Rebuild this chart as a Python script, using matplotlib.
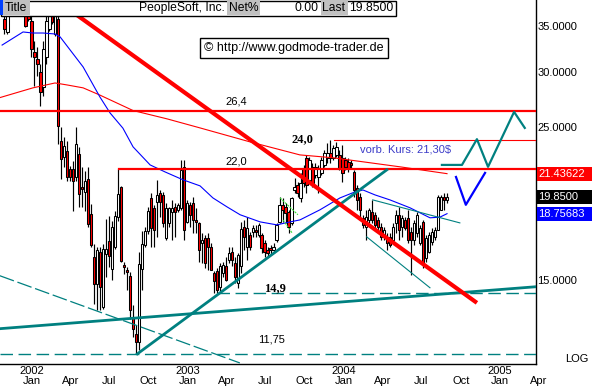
import matplotlib
matplotlib.use("Agg")
import matplotlib.pyplot as plt
import matplotlib.dates as mdates
from matplotlib.patches import Rectangle
from matplotlib.transforms import blended_transform_factory
import numpy as np
import pandas as pd

plt.rcParams['font.family'] = ['Liberation Sans', 'DejaVu Sans']

# ---------------- data (weekly OHLC, PeopleSoft) ----------------
first_week = "2001-10-29"
opens = [35.90, 34.35, 36.90, 39.00, 40.80, 39.80, 38.50, 37.50, 36.80, 35.70,
         32.14, 31.43, 30.06, 28.60, 31.60, 34.73, 36.30, 34.16, 35.90, 23.94,
         22.65, 23.15, 21.78, 21.78, 21.19, 22.90, 20.49, 20.15, 21.07, 18.75,
         16.23, 14.85, 16.50, 13.73, 16.40, 17.15, 15.61, 16.78, 18.54, 20.49,
         15.78, 15.52, 15.26, 13.28, 12.56, 12.23, 15.61, 16.87, 17.73, 19.75,
         19.11, 19.53, 20.08, 19.97, 17.29, 18.17, 18.89, 19.21, 19.00, 19.11,
         21.95, 18.27, 19.32, 19.43, 18.37, 18.17, 17.00, 17.29, 17.29, 16.81,
         15.39, 15.47, 14.71, 15.39, 15.73, 16.08, 16.53, 15.91, 14.88, 15.73,
         17.97, 16.81, 17.48, 17.67, 17.77, 17.48, 17.48, 17.00, 16.62, 16.72,
         16.62, 17.19, 18.27, 19.32, 19.21, 18.89, 18.17, 20.30, 20.65, 19.75,
         21.84, 22.57, 21.00, 21.95, 21.35, 21.23, 21.47, 22.07, 22.57, 22.95,
         22.57, 22.82, 22.82, 22.57, 22.45, 22.32, 22.20, 21.58, 20.42, 19.86,
         18.48, 17.97, 18.37, 18.89, 18.69, 18.37, 17.97, 17.38, 17.38, 17.38,
         17.19, 18.17, 18.69, 17.97, 18.37, 18.48, 17.67, 17.19, 17.58, 17.00,
         18.27, 16.19, 16.53, 17.09, 17.38, 17.77, 19.00, 19.86, 19.64]
highs = [36.60, 37.50, 39.50, 41.50, 42.50, 41.00, 39.80, 38.00, 37.30, 36.30,
         33.40, 32.68, 30.90, 33.40, 36.50, 36.80, 36.80, 36.80, 36.60, 25.03,
         24.21, 23.94, 22.02, 22.39, 25.03, 23.41, 21.91, 21.65, 21.91, 19.38,
         16.96, 16.78, 16.78, 16.96, 18.44, 18.64, 18.33, 18.95, 21.78, 20.55,
         15.96, 15.70, 15.44, 13.81, 12.92, 16.50, 17.73, 17.93, 19.17, 20.08,
         19.32, 21.00, 20.30, 20.19, 19.43, 19.21, 19.64, 19.43, 19.43, 22.45,
         22.45, 19.64, 19.53, 19.86, 19.11, 18.27, 17.58, 17.48, 17.58, 17.00,
         15.47, 15.65, 15.91, 15.99, 16.26, 16.81, 16.81, 16.26, 16.44, 18.27,
         18.37, 18.58, 17.67, 18.07, 18.07, 18.17, 17.58, 17.19, 16.81, 16.90,
         17.00, 18.17, 19.86, 19.75, 19.43, 19.00, 19.86, 21.12, 20.88, 21.47,
         22.07, 22.82, 22.69, 22.20, 22.20, 22.07, 22.69, 23.20, 23.73, 24.00,
         23.60, 23.86, 23.20, 23.60, 22.69, 22.57, 22.45, 21.71, 20.65, 20.08,
         18.69, 19.00, 19.11, 19.64, 18.89, 18.58, 18.17, 17.97, 17.58, 17.58,
         18.17, 19.00, 19.21, 18.69, 18.58, 19.00, 17.97, 18.37, 18.89, 18.07,
         18.37, 17.48, 17.67, 17.87, 17.97, 19.97, 19.97, 20.08, 20.08]
lows = [34.16, 34.16, 36.60, 38.20, 39.20, 38.00, 37.00, 34.93, 35.70, 31.60,
        28.76, 29.73, 26.90, 27.80, 30.90, 34.54, 35.30, 33.96, 23.68, 21.07,
        21.91, 20.95, 20.95, 18.95, 20.95, 19.17, 19.17, 18.95, 17.93, 16.78,
        13.88, 13.58, 13.58, 13.65, 15.18, 15.70, 15.01, 16.68, 18.33, 15.96,
        15.35, 14.52, 13.21, 12.43, 11.75, 11.89, 14.52, 16.78, 17.54, 16.81,
        16.81, 17.38, 18.58, 17.97, 17.19, 17.97, 17.19, 17.38, 18.89, 19.00,
        17.19, 18.17, 17.97, 17.58, 17.58, 15.99, 15.91, 15.65, 15.57, 15.52,
        14.39, 14.39, 14.47, 15.21, 14.96, 15.91, 15.73, 14.88, 14.63, 15.39,
        16.62, 16.08, 16.62, 17.38, 17.38, 17.38, 16.44, 16.26, 16.26, 16.35,
        16.44, 17.09, 18.17, 18.27, 18.17, 17.58, 18.07, 20.08, 19.86, 19.53,
        20.53, 20.08, 20.77, 20.53, 21.12, 20.08, 21.35, 21.95, 22.20, 22.20,
        22.45, 22.69, 21.71, 20.88, 21.71, 21.58, 21.84, 19.86, 19.00, 18.37,
        17.87, 17.19, 18.17, 18.17, 17.87, 17.77, 17.19, 17.19, 16.62, 16.81,
        17.00, 17.58, 17.19, 17.38, 17.77, 17.00, 15.30, 16.90, 17.38, 16.90,
        15.66, 15.97, 16.44, 16.90, 17.19, 17.77, 19.00, 19.00, 19.43]
closes = [34.73, 36.90, 39.00, 40.80, 39.80, 38.50, 37.50, 35.10, 35.90, 32.49,
          31.67, 30.91, 28.12, 32.49, 35.70, 36.30, 35.50, 36.30, 25.16, 22.52,
          23.54, 21.19, 21.19, 20.95, 23.68, 20.04, 20.37, 20.95, 18.13, 16.87,
          14.85, 16.59, 14.68, 16.68, 16.68, 16.31, 17.93, 18.64, 20.04, 16.04,
          15.70, 15.44, 13.58, 12.78, 12.23, 15.87, 16.96, 17.73, 18.95, 17.87,
          17.77, 19.97, 19.53, 18.17, 19.11, 19.11, 19.11, 18.89, 19.32, 21.71,
          17.77, 19.43, 18.69, 18.37, 18.27, 16.62, 17.19, 15.91, 16.81, 15.57,
          14.96, 14.55, 15.73, 15.82, 15.04, 16.44, 16.08, 15.21, 16.35, 17.81,
          17.38, 17.87, 16.81, 17.87, 17.67, 18.07, 16.72, 16.53, 16.44, 16.62,
          16.81, 18.07, 19.32, 19.00, 18.79, 17.97, 19.75, 20.53, 20.08, 20.77,
          20.77, 20.65, 22.45, 20.77, 21.95, 21.84, 22.45, 22.95, 22.95, 22.57,
          23.34, 23.46, 21.84, 21.47, 21.95, 21.84, 22.07, 20.30, 19.64, 19.00,
          18.07, 18.58, 19.00, 18.37, 18.07, 17.97, 17.38, 17.77, 17.00, 16.90,
          17.97, 18.69, 17.77, 18.48, 17.87, 17.19, 17.19, 18.17, 18.69, 17.87,
          15.82, 17.29, 17.48, 17.67, 17.77, 19.86, 19.86, 19.64, 19.85]

# moving averages (node positions in weeks since first bar, values)
red_ma_wk = [-1.5, 9.5, 16.9, 20.9, 26.3, 31.9, 43.0, 54.3, 65.4, 82.0, 98.8, 110.0, 132.3, 148.0]
red_ma_val = [27.63, 28.54, 29.01, 28.82, 28.54, 27.86, 26.46, 25.74, 24.97, 23.84, 22.82, 22.60, 21.93, 21.436]
blue_ma_wk = [-0.8, 6.2, 9.5, 12.9, 16.9, 18.6, 26.3, 31.9, 35.3, 39.6, 43.0, 48.7, 53.7, 59.7, 65.4,
              69.7, 74.4, 78.8, 85.5, 91.1, 95.5, 98.8, 105.5, 112.2, 117.2, 119.9, 123.9, 128.9,
              135.6, 142.3, 145.6, 148.0]
blue_ma_val = [32.92, 34.39, 34.27, 34.27, 34.16, 33.83, 30.60, 27.69, 26.25, 24.95, 23.44, 22.07, 21.56,
               21.00, 20.58, 19.77, 19.19, 18.69, 18.25, 18.07, 18.25, 18.37, 19.00, 19.77, 20.17, 20.30,
               19.97, 19.64, 19.13, 18.50, 18.54, 18.757]

# drawn analysis lines: (start date, start price, end date, end price)
red_down = ("2002-04-17", 36.37, "2004-11-08", 13.93)
teal_up = ("2002-09-05", 11.75, "2004-04-11", 21.71)
teal_flat = ("2001-10-18", 12.78, "2005-03-26", 14.70)
teal_dash_down = ("2001-10-18", 15.25, "2003-05-03", 11.40)
teal_chan_up = ("2004-03-09", 19.64, "2004-09-29", 18.19)
teal_chan_lo = ("2004-02-24", 17.36, "2004-07-21", 14.65)
green_a = ("2003-08-05", 19.77, "2003-09-16", 18.69)
green_b = ("2003-08-12", 18.37, "2003-09-02", 17.60)
level_264 = 26.4
level_220 = ("2002-07-23", 21.75)
level_240 = ("2003-12-09", 24.0)
level_149 = ("2003-03-10", 14.38)
level_1175 = 11.75
proj_teal_dates = ["2004-08-18", "2004-10-04", "2004-11-08", "2004-12-04", "2005-02-03", "2005-02-28"]
proj_teal_vals = [22.07, 22.07, 24.05, 21.93, 26.34, 24.97]
proj_blue_dates = ["2004-09-20", "2004-10-13", "2004-11-27"]
proj_blue_vals = [21.20, 19.32, 21.49]

last_price = 19.85
red_ma_last = 21.43622
blue_ma_last = 18.75683
y_ticks = [15, 25, 30, 35]
month_ticks = pd.date_range("2002-01-01", "2005-04-01", freq="3MS")

# ---------------- figure ----------------
W, H = 592, 387
fig = plt.figure(figsize=(W / 100, H / 100), dpi=100)
fig.patch.set_facecolor("white")

def fx(px):
    return px / W

def fy(py):
    return 1 - py / H

AX_R, AX_B = 536, 364
ax = fig.add_axes([0, fy(AX_B), fx(AX_R), 1 - fy(AX_B)])
ax.set_yscale("log")
ax.set_ylim(11.36, 38.26)
ax.set_xlim(mdates.date2num(pd.Timestamp("2001-10-18 11:17")),
            mdates.date2num(pd.Timestamp("2005-03-26 07:00")))
ax.tick_params(axis="both", which="both", length=0, labelbottom=False, labelleft=False)
ax.yaxis.set_minor_locator(matplotlib.ticker.NullLocator())
ax.yaxis.set_major_locator(matplotlib.ticker.NullLocator())
ax.xaxis.set_major_locator(matplotlib.ticker.NullLocator())
for s in ("top", "left"):
    ax.spines[s].set_visible(False)
for s in ("right", "bottom"):
    ax.spines[s].set_linewidth(1.0)
    ax.spines[s].set_color("black")

TEAL = "#008080"
RED = "#ff0000"

weeks = pd.date_range(first_week, periods=len(opens), freq="7D")
xd = mdates.date2num(weeks)
o, h, l, c = map(np.array, (opens, highs, lows, closes))
up = c >= o
body_w = 5.4
ax.vlines(xd, l, h, color="black", lw=0.85, zorder=3)
ax.bar(xd[up], np.maximum(c[up] - o[up], 0.02), bottom=o[up], width=body_w,
       color="white", edgecolor="black", lw=0.75, zorder=4)
ax.bar(xd[~up], np.maximum(o[~up] - c[~up], 0.02), bottom=c[~up], width=body_w,
       color=RED, edgecolor="black", lw=0.75, zorder=4)

x0 = xd[0]
ax.plot(x0 + 7 * np.array(red_ma_wk), red_ma_val, color=RED, lw=0.8, zorder=5)
ax.plot(x0 + 7 * np.array(blue_ma_wk), blue_ma_val, color="#0000ff", lw=0.8, zorder=5)

def seg(spec, **kw):
    d0, v0, d1, v1 = spec
    ax.plot([pd.Timestamp(d0), pd.Timestamp(d1)], [v0, v1], **kw)

xmin, xmax = ax.get_xlim()
ax.axhline(level_264, color=RED, lw=1.6, zorder=6)
ax.plot([pd.Timestamp(level_220[0]), mdates.num2date(xmax)], [level_220[1]] * 2, color=RED, lw=1.6, zorder=6)
ax.plot([pd.Timestamp(level_240[0]), mdates.num2date(xmax)], [level_240[1]] * 2, color=RED, lw=0.8, zorder=6)
seg(red_down, color=RED, lw=3.0, zorder=7, solid_capstyle="butt")
seg(teal_up, color=TEAL, lw=2.0, zorder=6)
seg(teal_flat, color=TEAL, lw=2.0, zorder=6)
seg(teal_dash_down, color=TEAL, lw=0.9, zorder=6, dashes=(12, 3))
seg(teal_chan_up, color=TEAL, lw=0.8, zorder=6)
seg(teal_chan_lo, color=TEAL, lw=0.8, zorder=6)
seg(green_a, color="#33dd33", lw=0.8, zorder=6, dashes=(2, 1))
seg(green_b, color="#33dd33", lw=0.8, zorder=6, dashes=(2, 1))
ax.plot([pd.Timestamp(level_149[0]), mdates.num2date(xmax)], [level_149[1]] * 2, color=TEAL, lw=1.0,
        dashes=(9, 4), zorder=6)
ax.axhline(level_1175, color=TEAL, lw=1.0, dashes=(9, 4), zorder=6)
ax.plot(pd.to_datetime(proj_teal_dates), proj_teal_vals, color=TEAL, lw=1.6, zorder=6)
ax.plot(pd.to_datetime(proj_blue_dates), proj_blue_vals, color="#0000ff", lw=1.6, zorder=6)

# annotations (positions in pixel of the picture)
def axp(px, py):
    return px / AX_R, (AX_B - py) / AX_B

def atext(px, py, s, **kw):
    ax.text(*axp(px, py), s, transform=ax.transAxes, ha="center", va="center", zorder=8, **kw)

atext(236, 101, "26,4", fontsize=8)
atext(236.5, 162, "22,0", fontsize=8)
atext(302, 139, "24,0", fontsize=9, fontweight="bold", family="Liberation Serif")
atext(275, 288, "14,9", fontsize=9, fontweight="bold", family="Liberation Serif")
atext(271.5, 340, "11,75", fontsize=8)
ax.text(*axp(360, 149), "vorb. Kurs: 21,30$", transform=ax.transAxes, ha="left", va="center",
        fontsize=8, color="#3c3cc8", zorder=8)

# axis labels
trans_x = ax.get_xaxis_transform()
for d in month_ticks:
    ax.text(d, (AX_B - 381) / AX_B, d.strftime("%b"), transform=trans_x, ha="center", va="center",
            fontsize=8, clip_on=False)
    if d.month == 1:
        ax.text(d, (AX_B - 371) / AX_B, str(d.year), transform=trans_x, ha="center", va="center",
                fontsize=8, clip_on=False)
trans_y = blended_transform_factory(ax.transAxes, ax.transData)
for v in y_ticks:
    ax.text(1.0 + 1.5 / AX_R, v, f"{v:.4f}", transform=trans_y, ha="left", va="center",
            fontsize=8, clip_on=False)

# value boxes at right
def value_box(v, fc, label):
    ypix = ax.transData.transform((xmin, v))[1]
    yf = ypix / fig.bbox.height
    hh = 14 / H
    fig.patches.append(Rectangle((fx(537), yf - hh / 2), 1 - fx(537), hh, transform=fig.transFigure,
                                 facecolor=fc, edgecolor="none", zorder=9))
    fig.text(fx(538), yf, label, color="white", fontsize=8, ha="left", va="center", zorder=10)

value_box(red_ma_last, RED, f"{red_ma_last:.5f}")
value_box(last_price, "black", f"{last_price:.4f}")
value_box(blue_ma_last, "#0000ff", f"{blue_ma_last:.5f}")
fig.text(fx(589), fy(359), "LOG", fontsize=8, ha="right", va="center")

# title bar
def frect(x0_, y0_, x1_, y1_, **kw):
    fig.patches.append(Rectangle((fx(x0_), fy(y1_)), fx(x1_ - x0_), (y1_ - y0_) / H,
                                 transform=fig.transFigure, **kw))

frect(0.5, 0.5, 396, 15.5, facecolor="white", edgecolor="black", lw=1, zorder=10)
frect(0, 0, 3.3, 15, facecolor="#0040ff", edgecolor="none", zorder=11)
frect(3.3, 0.5, 29.7, 15, facecolor="#c0c0c0", edgecolor="none", zorder=11)
frect(227, 0.5, 260, 15, facecolor="#c0c0c0", edgecolor="none", zorder=11)
frect(320.7, 0.5, 348.3, 15, facecolor="#c0c0c0", edgecolor="none", zorder=11)
tb = dict(fontsize=8.7, va="center", zorder=12)
fig.text(fx(5), fy(8), "Title", ha="left", **tb)
fig.text(fx(224.5), fy(8), "PeopleSoft, Inc.", ha="right", **tb)
fig.text(fx(228.5), fy(8), "Net%", ha="left", **tb)
fig.text(fx(318.5), fy(8), "0.00", ha="right", **tb)
fig.text(fx(322), fy(8), "Last", ha="left", **tb)
fig.text(fx(349.5), fy(8), f"{last_price:.4f}", ha="left", **tb)

fig.text(fx(294), fy(48), "\u00a9 http://www.godmode-trader.de", fontsize=9, ha="center", va="center",
         zorder=12, bbox=dict(boxstyle="square,pad=0.35", facecolor="white", edgecolor="black", lw=1))

fig.savefig("out.png", dpi=100, facecolor="white")
